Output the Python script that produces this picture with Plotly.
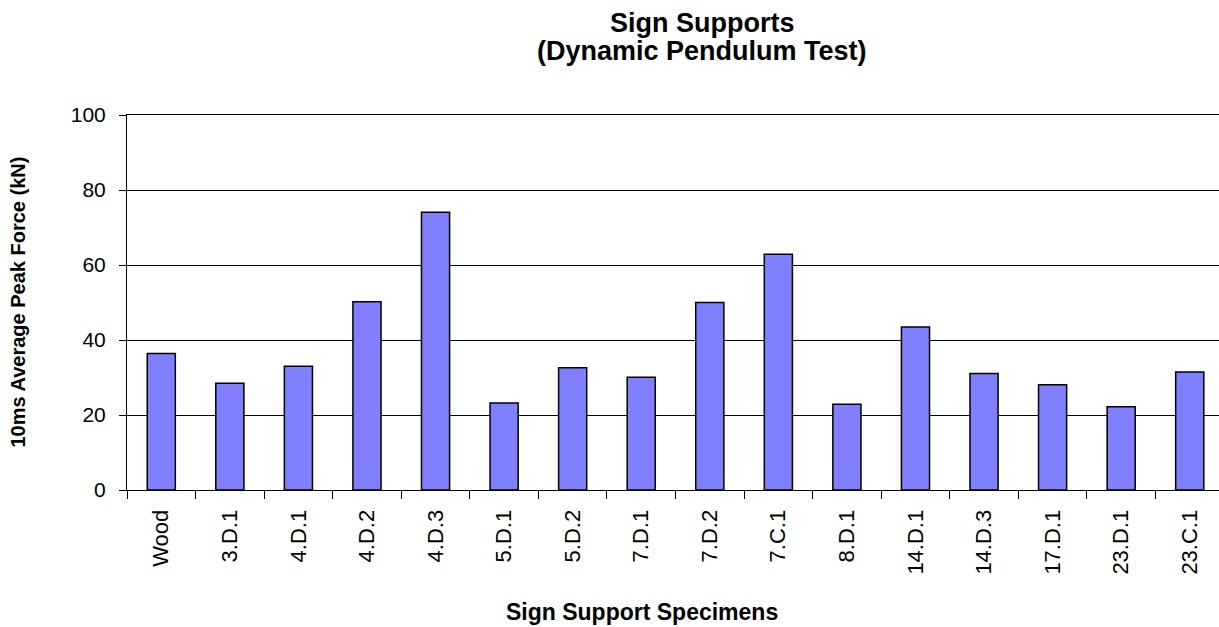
import plotly.graph_objects as go

# Specimen names and 10 ms average peak force (kN)
specimens = ["Wood", "3.D.1", "4.D.1", "4.D.2", "4.D.3", "5.D.1", "5.D.2", "7.D.1",
             "7.D.2", "7.C.1", "8.D.1", "14.D.1", "14.D.3", "17.D.1", "23.D.1", "23.C.1"]
peak_force = [36.4, 28.5, 33.0, 50.2, 74.1, 23.2, 32.6, 30.1,
              50.0, 62.9, 22.9, 43.5, 31.1, 28.1, 22.2, 31.5]
y_ticks = [0, 20, 40, 60, 80, 100]

FONT = "Arial, Liberation Sans, sans-serif"
PLOT_LEFT, PLOT_WIDTH = 127, 1092


def px_to_paper_x(px):
    return (px - PLOT_LEFT) / PLOT_WIDTH


fig = go.Figure(
    go.Bar(
        x=specimens,
        y=peak_force,
        width=0.41,
        marker=dict(color="#8080FF", line=dict(color="black", width=1.5)),
    )
)

fig.update_layout(
    width=1219,
    height=627,
    margin=dict(l=127, r=0, t=115, b=137),
    paper_bgcolor="white",
    plot_bgcolor="white",
    showlegend=False,
    font=dict(family=FONT, color="black"),
    xaxis=dict(
        type="category",
        range=[-0.5, 15.427],
        showline=True,
        mirror=True,
        linecolor="black",
        linewidth=1,
        ticks="outside",
        tickson="boundaries",
        ticklen=8,
        tickcolor="black",
        tickwidth=1,
        tickangle=-90,
        ticklabelstandoff=10,
        tickfont=dict(family=FONT, size=22, color="black"),
        showgrid=False,
    ),
    yaxis=dict(
        range=[0, 100],
        tickvals=y_ticks,
        showline=True,
        linecolor="black",
        linewidth=1,
        ticks="outside",
        ticklen=7,
        tickcolor="black",
        tickwidth=1,
        ticklabelstandoff=9,
        tickfont=dict(family=FONT, size=21, color="black"),
        showgrid=True,
        gridcolor="black",
        gridwidth=1,
        zeroline=False,
    ),
    annotations=[
        # two-line chart title
        dict(
            text="<b>Sign Supports</b>",
            xref="paper", yref="paper",
            x=px_to_paper_x(702), y=1,
            yshift=92,
            xanchor="center", yanchor="middle",
            showarrow=False,
            font=dict(family=FONT, size=27, color="black"),
        ),
        dict(
            text="<b>(Dynamic Pendulum Test)</b>",
            xref="paper", yref="paper",
            x=px_to_paper_x(702), y=1,
            yshift=64,
            xanchor="center", yanchor="middle",
            showarrow=False,
            font=dict(family=FONT, size=27, color="black"),
        ),
        # axis titles
        dict(
            text="<b>10ms Average Peak Force (kN)</b>",
            xref="paper", yref="paper",
            x=0, y=0.5,
            xshift=-110,
            xanchor="center", yanchor="middle",
            textangle=-90,
            showarrow=False,
            font=dict(family=FONT, size=20, color="black"),
        ),
        dict(
            text="<b>Sign Support Specimens</b>",
            xref="paper", yref="paper",
            x=px_to_paper_x(642), y=0,
            yshift=-122,
            xanchor="center", yanchor="middle",
            showarrow=False,
            font=dict(family=FONT, size=23, color="black"),
        ),
    ],
)

fig.write_html("out.html")
